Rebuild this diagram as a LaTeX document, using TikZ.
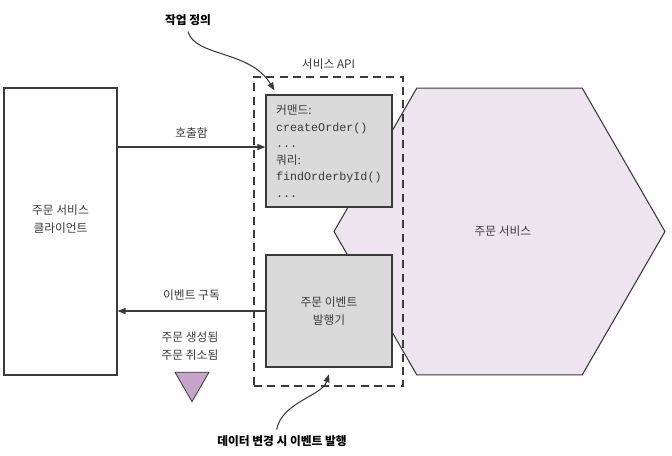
\documentclass[tikz,border=0pt]{standalone}
\usepackage{fontspec}
\setmainfont{Noto Sans CJK KR}
\newfontfamily\codefont{Liberation Mono}
\usepackage{tikz}
\usetikzlibrary{arrows.meta,positioning,shapes.geometric}
\definecolor{ink}{HTML}{3A3A3A}
\definecolor{boxgray}{HTML}{D9DAD9}
\definecolor{lilac}{HTML}{EEE4F0}
\definecolor{mauve}{HTML}{C8A4CA}
\newcommand\lblfont{\fontsize{8.8}{13.5}\selectfont\lineskiplimit-10pt\relax}
\newcommand\apifont{\fontsize{8.8}{12.4}\selectfont\lineskiplimit-10pt\relax}

\begin{document}
\begin{tikzpicture}[x=0.75pt,y=-0.75pt,
 every node/.style={text=ink,font=\lblfont},
 plain/.style={draw=ink,line width=0.8pt,align=center,inner sep=0pt},
 gbox/.style={plain,fill=boxgray,minimum width=94.5pt,minimum height=84pt},
 api/.style={draw=ink,line width=1pt,dash pattern=on 6pt off 4pt,minimum width=111.75pt,minimum height=231.75pt,inner sep=0pt},
 note/.style={text=black,font=\lblfont\bfseries},
 arr/.style={-{Triangle[length=6pt,width=4.5pt]},line width=0.8pt,draw=ink}]
\useasboundingbox (0,0) rectangle (672,455);
% service hexagon behind the API
\node[regular polygon,regular polygon sides=6,draw=ink,line width=0.8pt,fill=lilac,minimum size=248.25pt,inner sep=0pt] (svc) at (499.5,231.5) {\hspace{5pt}주문 서비스};
\node[api] (api) at (328.5,231.5) {};
\node[above=2pt of api] (apiname) {서비스 API};
\node[plain,minimum width=84.75pt,minimum height=215.25pt] (client) at (60.5,231.5) {주문 서비스\\클라이언트\\[6pt]};
\node[gbox,align=left,text width=79.5pt,font=\apifont] (cmd) at (329,151)
 {커맨드:\\{\codefont createOrder()}\\{\codefont ...}\\쿼리:\\{\codefont findOrderbyId()}\\{\codefont ...}};
\node[gbox] (pub) at (329,311) {주문 이벤트\\발행기};
\node[note] (task) at (188,20) {작업 정의};
\node[note] (emit) at (282,441) {데이터 변경 시 이벤트 발행};
\node[align=center] (events) at (190,346) {주문 생성됨\\주문 취소됨};
\node[regular polygon,regular polygon sides=3,shape border rotate=180,draw=ink,line width=0.6pt,fill=mauve,minimum size=29.5pt,inner sep=0pt] (evtri) at (192,382) {};
% connectors
\coordinate (callin) at ([yshift=3pt]cmd.west);
\draw[arr] (client.east |- callin) -- (callin) node[midway,above=3pt] {호출함};
\draw[arr] (pub.west) -- (pub.west -| client.east) node[midway,above=4pt] {이벤트 구독};
\draw[arr] ([yshift=-1pt]task.south) .. controls (195,57) and (250,50) .. ([shift={(6.75pt,3pt)}]cmd.north west);
\draw[arr] ([xshift=-4pt,yshift=1pt]emit.north) .. controls (282,402) and (322,396) .. ([yshift=-5pt]pub.south);
\end{tikzpicture}
\end{document}
